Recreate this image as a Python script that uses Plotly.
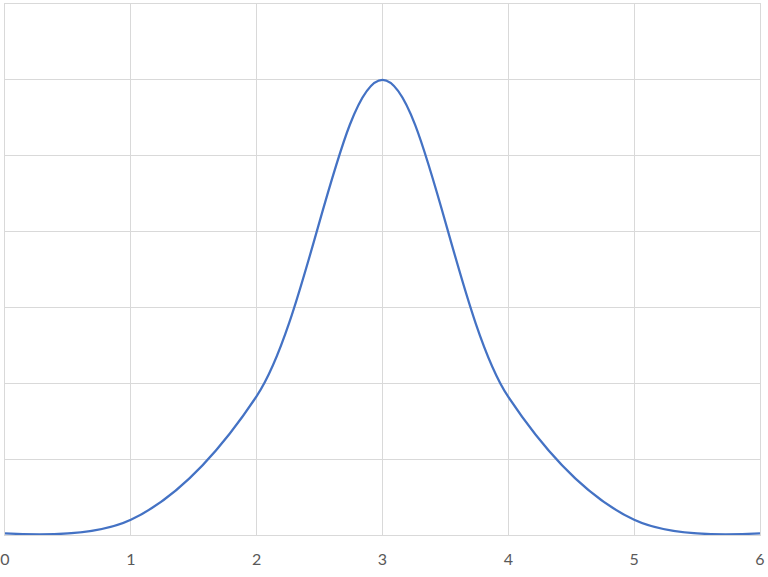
import plotly.graph_objects as go

x_values = [0, 1, 2, 3, 4, 5, 6]
y_values = [0.022, 0.2, 1.83, 6.0, 1.82, 0.2, 0.022]
x_ticks = [0, 1, 2, 3, 4, 5, 6]

grid = "#d9d9d9"

fig = go.Figure()
fig.add_trace(go.Scatter(
    x=x_values, y=y_values, mode="lines",
    line=dict(color="#4472C4", width=2.25, shape="spline", smoothing=1.0),
    showlegend=False, hoverinfo="skip",
))

fig.update_layout(
    width=768, height=577,
    margin=dict(l=5, r=8, t=4, b=42, autoexpand=False),
    paper_bgcolor="white", plot_bgcolor="white",
    font=dict(family="Lato, Open Sans, sans-serif", size=16, color="#595959"),
)
fig.update_xaxes(
    range=[0, 6], tickvals=x_ticks, ticktext=[str(t) for t in x_ticks],
    showgrid=True, gridcolor=grid, gridwidth=1,
    showline=True, linecolor=grid, linewidth=1, mirror=True,
    zeroline=False, ticks="", ticklabelstandoff=10, automargin=False,
)
fig.update_yaxes(
    range=[0, 7], dtick=1, showticklabels=False,
    showgrid=True, gridcolor=grid, gridwidth=1,
    showline=True, linecolor=grid, linewidth=1, mirror=True,
    zeroline=False, ticks="", automargin=False,
)

fig.write_html(
    "out.html",
    config={"displayModeBar": False},
    post_script="document.body.style.margin='0';document.body.style.overflow='hidden';",
)
